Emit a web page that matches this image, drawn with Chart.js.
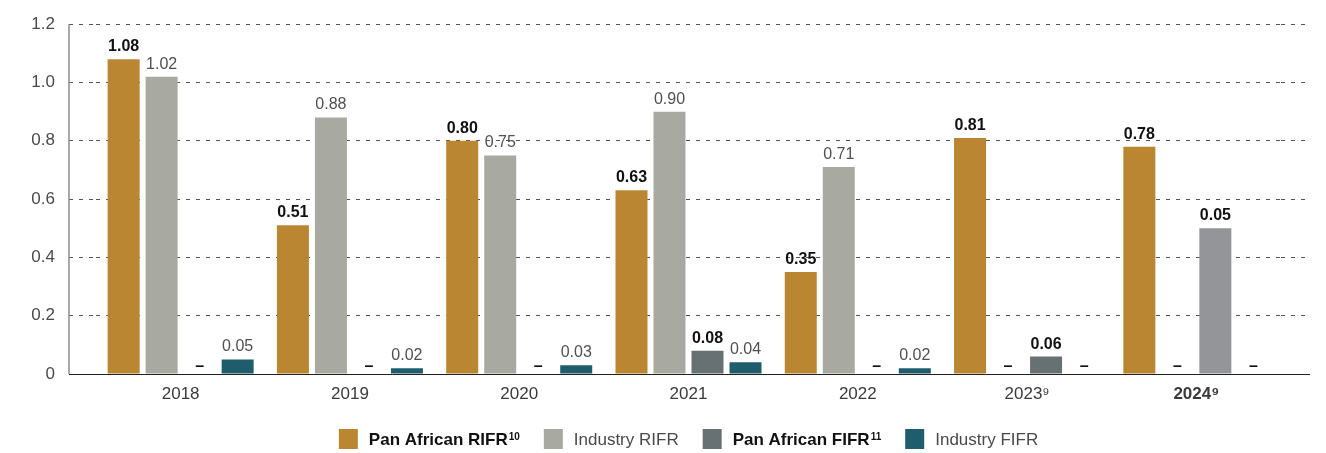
<!DOCTYPE html>
<html>
<head>
<meta charset="utf-8">
<script src="https://cdn.jsdelivr.net/npm/chart.js@4.4.1/dist/chart.umd.min.js"></script>
<style>
  html, body { margin: 0; padding: 0; background: #fff; }
  canvas { display: block; }
</style>
</head>
<body>
<canvas id="chartCanvas" width="1326" height="453"></canvas>
<script>
const years = ['2018', '2019', '2020', '2021', '2022', '2023⁹', '2024⁹'];
const panAfricanRifr = [1.08, 0.51, 0.80, 0.63, 0.35, 0.81, 0.78];
const industryRifr = [1.02, 0.88, 0.75, 0.90, 0.71, 0, 0];
const panAfricanFifr = [0, 0, 0, 0.08, 0, 0.06, 0.50];
const industryFifr = [0.05, 0.02, 0.03, 0.04, 0.02, 0, 0];

// printed labels (the 2024 FIFR bar is drawn at 0.50 but labelled 0.05 in the source)
const panAfricanRifrLabels = ['1.08', '0.51', '0.80', '0.63', '0.35', '0.81', '0.78'];
const industryRifrLabels = ['1.02', '0.88', '0.75', '0.90', '0.71', '–', '–'];
const panAfricanFifrLabels = ['–', '–', '–', '0.08', '–', '0.06', '0.05'];
const industryFifrLabels = ['0.05', '0.02', '0.03', '0.04', '0.02', '–', '–'];

const yTicks = [0, 0.2, 0.4, 0.6, 0.8, 1.0, 1.2];

const FONT = '"Liberation Sans", Arial, sans-serif';
const GOLD = '#bb8631';
const SAND = '#a8a9a0';
const SLATE = '#677073';
const TEAL = '#1f5d6d';
const GRID = '#555555';
const DASH = [4, 6];

const legendItems = [
  { text: 'Pan African RIFR', sup: '10', color: GOLD, bold: true },
  { text: 'Industry RIFR', sup: '', color: SAND, bold: false },
  { text: 'Pan African FIFR', sup: '11', color: SLATE, bold: true },
  { text: 'Industry FIFR', sup: '', color: TEAL, bold: false },
];

Chart.defaults.font.family = FONT;

const valueLabels = {
  id: 'valueLabels',
  afterDatasetsDraw(chart) {
    const ctx = chart.ctx;
    ctx.save();
    ctx.textAlign = 'center';
    ctx.textBaseline = 'alphabetic';
    chart.data.datasets.forEach((ds, di) => {
      chart.getDatasetMeta(di).data.forEach((bar, i) => {
        const text = ds.valueLabels[i];
        const isDash = text === '–';
        const bold = ds.boldLabels || isDash;
        ctx.font = (bold ? 'bold ' : '') + '16px ' + FONT;
        ctx.fillStyle = bold ? '#111' : '#505050';
        ctx.fillText(text, bar.x, bar.y - (isDash ? 3 : 8));
      });
    });
    ctx.restore();
  }
};

// y axis line sits left of the first category, like the source
const axisLine = {
  id: 'axisLine',
  beforeDatasetsDraw(chart) {
    const { ctx, chartArea } = chart;
    const x = chartArea.left - 27;
    ctx.save();
    ctx.strokeStyle = '#8c8c8c';
    ctx.lineWidth = 1.5;
    ctx.beginPath();
    ctx.moveTo(x, chartArea.top);
    ctx.lineTo(x, chartArea.bottom);
    ctx.stroke();
    ctx.restore();
  }
};

const bottomLegend = {
  id: 'bottomLegend',
  afterDraw(chart) {
    const { ctx, chartArea } = chart;
    const box = 19, gap = 11, spacing = 24, y = 439;
    ctx.save();
    const widths = legendItems.map(it => {
      ctx.font = (it.bold ? 'bold ' : '') + '17px ' + FONT;
      let w = ctx.measureText(it.text).width;
      if (it.sup) {
        ctx.font = (it.bold ? 'bold ' : '') + '10px ' + FONT;
        w += 1 + ctx.measureText(it.sup).width;
      }
      return box + gap + w;
    });
    const total = widths.reduce((a, b) => a + b, 0) + spacing * (widths.length - 1);
    let x = (chartArea.left + chartArea.right) / 2 - total / 2;
    legendItems.forEach((it, i) => {
      ctx.fillStyle = it.color;
      ctx.fillRect(x, y - 10, box, 20);
      ctx.fillStyle = it.bold ? '#111' : '#4a4a4a';
      ctx.font = (it.bold ? 'bold ' : '') + '17px ' + FONT;
      ctx.textAlign = 'left';
      ctx.textBaseline = 'middle';
      const tx = x + box + gap;
      ctx.fillText(it.text, tx, y + 1);
      if (it.sup) {
        const tw = ctx.measureText(it.text).width;
        ctx.font = (it.bold ? 'bold ' : '') + '10px ' + FONT;
        ctx.textBaseline = 'top';
        ctx.fillText(it.sup, tx + tw + 1, y - 7);
      }
      x += widths[i] + spacing;
    });
    ctx.restore();
  }
};

const isZero = c => c.tick && c.tick.value === 0;

const ctx = document.getElementById('chartCanvas').getContext('2d');
const myChart = new Chart(ctx, {
  type: 'bar',
  data: {
    labels: years,
    datasets: [
      { label: 'Pan African RIFR', data: panAfricanRifr, backgroundColor: GOLD, valueLabels: panAfricanRifrLabels, boldLabels: true },
      { label: 'Industry RIFR', data: industryRifr, backgroundColor: SAND, valueLabels: industryRifrLabels, boldLabels: false },
      { label: 'Pan African FIFR', data: panAfricanFifr,
        backgroundColor: [SLATE, SLATE, SLATE, SLATE, SLATE, SLATE, '#939598'],
        valueLabels: panAfricanFifrLabels, boldLabels: true },
      { label: 'Industry FIFR', data: industryFifr, backgroundColor: TEAL, valueLabels: industryFifrLabels, boldLabels: false },
    ]
  },
  options: {
    responsive: false,
    animation: false,
    layout: { padding: { left: 0, right: 16, top: 24, bottom: 39 } },
    datasets: { bar: { categoryPercentage: 0.898, barPercentage: 0.842, borderWidth: 0 } },
    plugins: {
      legend: { display: false },
      tooltip: { enabled: false }
    },
    scales: {
      x: {
        grid: { display: false, drawTicks: false },
        border: { display: true, color: '#222', width: 1 },
        ticks: {
          padding: 10,
          color: '#3a3a3a',
          font: c => ({ size: 17, weight: c.index === 6 ? 'bold' : 'normal' })
        },
        afterFit(s) { s.height = 40; }
      },
      y: {
        min: 0,
        max: 1.2,
        afterBuildTicks(s) { s.ticks = yTicks.map(v => ({ value: v })); },
        afterFit(s) { s.width = 96; },
        grid: {
          color: c => isZero(c) ? 'rgba(0,0,0,0)' : GRID,
          lineWidth: 1,
          drawTicks: true,
          tickLength: 27,
          tickColor: c => isZero(c) ? '#222' : GRID,
          tickBorderDash: c => isZero(c) ? [] : DASH
        },
        border: { display: false, dash: DASH },
        ticks: {
          padding: 14,
          color: '#4a4a4a',
          font: { size: 17 },
          callback: v => v === 0 ? '0' : v.toFixed(1)
        }
      },
      y2: {
        position: 'right',
        min: 0,
        max: 1.2,
        afterBuildTicks(s) { s.ticks = yTicks.map(v => ({ value: v })); },
        afterFit(s) { s.width = 29; },
        grid: {
          drawOnChartArea: false,
          drawTicks: true,
          tickLength: 29,
          tickColor: c => isZero(c) ? '#222' : GRID,
          tickBorderDash: c => isZero(c) ? [] : DASH
        },
        border: { display: false },
        ticks: { display: false }
      }
    }
  },
  plugins: [axisLine, valueLabels, bottomLegend]
});
</script>
</body>
</html>
